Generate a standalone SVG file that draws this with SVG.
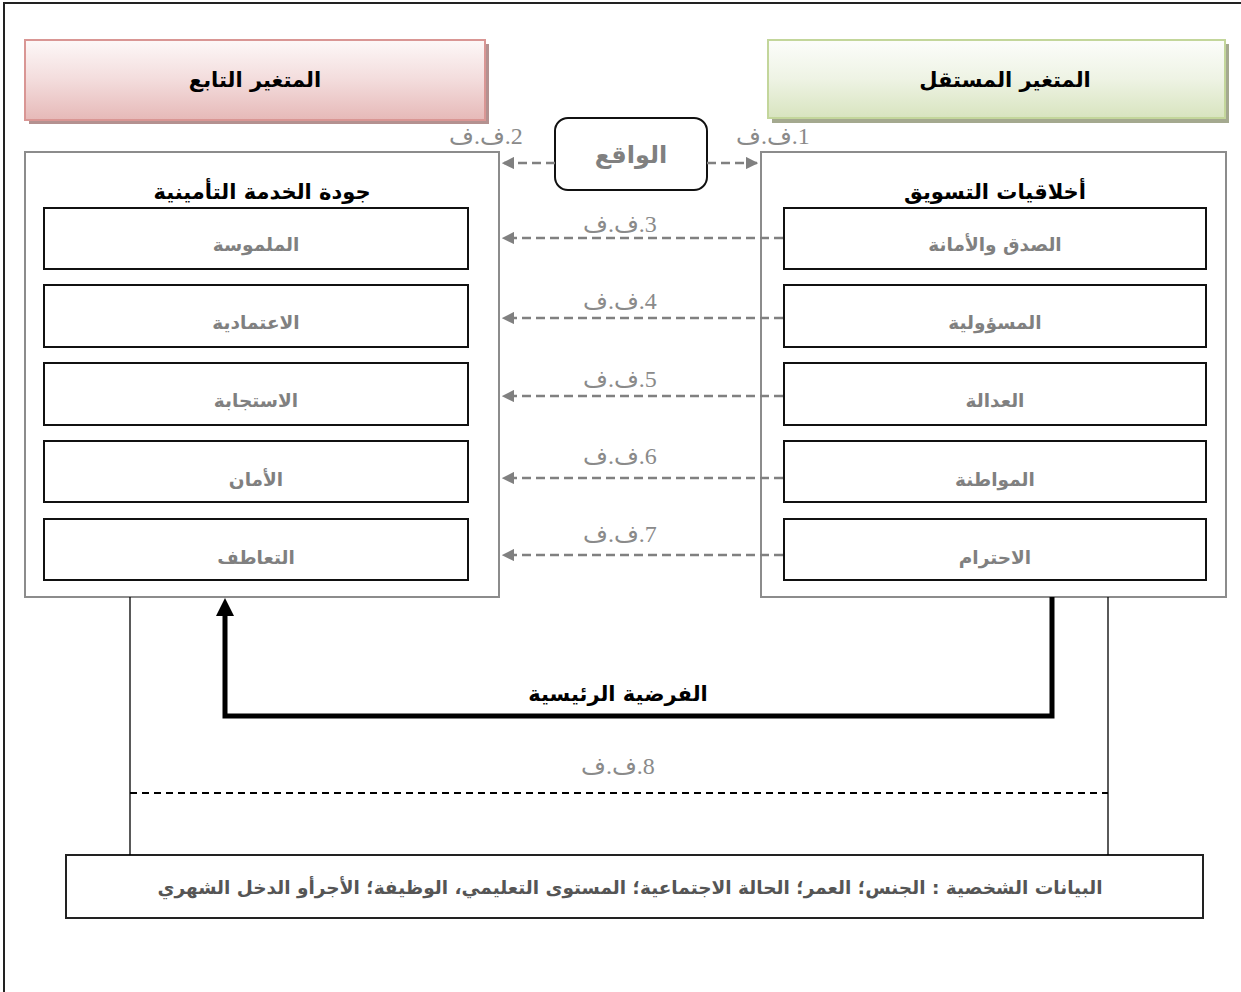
<svg xmlns="http://www.w3.org/2000/svg" width="1241" height="992" viewBox="0 0 1241 992">
  <style>
    .ar { font-family: "DejaVu Sans", "Noto Sans", sans-serif; font-weight: bold; text-anchor: middle; }
    .hdr { font-size: 21px; fill: #000; }
    .item { font-size: 18.5px; fill: #808080; }
    .box { fill: #fff; stroke: #111; stroke-width: 2; }
    .frame { fill: none; stroke: #8c8c8c; stroke-width: 2; }
    .lbl { font-family: "Liberation Serif", "DejaVu Sans", serif; font-size: 24px; fill: #8a8a8a; text-anchor: middle; unicode-bidi: bidi-override; direction: ltr; }
    .dash { stroke: #808080; stroke-width: 2.5; stroke-dasharray: 9 5; fill: none; }
    .thin { stroke: #000; stroke-width: 1.3; fill: none; }
  </style>
  <defs>
    <linearGradient id="pinkFill" x1="0" y1="0" x2="0" y2="1">
      <stop offset="0" stop-color="#fdf8f8"/>
      <stop offset="0.5" stop-color="#f3dcdc"/>
      <stop offset="1" stop-color="#e6b9b8"/>
    </linearGradient>
    <linearGradient id="greenFill" x1="0" y1="0" x2="0" y2="1">
      <stop offset="0" stop-color="#fcfdfb"/>
      <stop offset="0.5" stop-color="#eef3e4"/>
      <stop offset="1" stop-color="#d8e4bf"/>
    </linearGradient>
    <marker id="grayHead" viewBox="0 0 10 10" refX="9" refY="5" markerWidth="5" markerHeight="5" orient="auto-start-reverse" markerUnits="strokeWidth">
      <path d="M0,0 L10,5 L0,10 Z" fill="#808080"/>
    </marker>
  </defs>

  <rect width="1241" height="992" fill="#fff"/>
  <!-- page frame -->
  <rect x="4" y="3" width="1250" height="1000" fill="none" stroke="#222" stroke-width="2"/>

  <!-- dependent variable header -->
  <g id="dependent-header">
    <rect x="29" y="44" width="460" height="80" fill="#b49190"/>
    <rect x="25" y="40" width="460" height="80" fill="url(#pinkFill)" stroke="#d99694" stroke-width="2"/>
    <text class="ar hdr" x="255" y="87" direction="rtl">المتغير التابع</text>
  </g>

  <!-- independent variable header -->
  <g id="independent-header">
    <rect x="772" y="44" width="457" height="79" fill="#a4a98f"/>
    <rect x="768" y="40" width="457" height="78" fill="url(#greenFill)" stroke="#c3d69b" stroke-width="2"/>
    <text class="ar hdr" x="1005" y="87" direction="rtl">المتغير المستقل</text>
  </g>

  <!-- reality node -->
  <g id="reality">
    <rect x="555" y="118" width="152" height="72" rx="13" fill="#fff" stroke="#111" stroke-width="2"/>
    <text class="ar" x="631" y="163" font-size="24" fill="#808080" direction="rtl">الواقع</text>
  </g>

  <!-- service quality block -->
  <g id="service-quality">
    <rect class="frame" x="25" y="152" width="474" height="445"/>
    <text class="ar hdr" x="262" y="199" direction="rtl">جودة الخدمة التأمينية</text>
    <rect class="box" x="44" y="208" width="424" height="61"/>
    <text class="ar item" x="256" y="251" direction="rtl">الملموسة</text>
    <rect class="box" x="44" y="285" width="424" height="62"/>
    <text class="ar item" x="256" y="329" direction="rtl">الاعتمادية</text>
    <rect class="box" x="44" y="363" width="424" height="62"/>
    <text class="ar item" x="256" y="407" direction="rtl">الاستجابة</text>
    <rect class="box" x="44" y="441" width="424" height="61"/>
    <text class="ar item" x="256" y="486" direction="rtl">الأمان</text>
    <rect class="box" x="44" y="519" width="424" height="61"/>
    <text class="ar item" x="256" y="564" direction="rtl">التعاطف</text>
  </g>

  <!-- marketing ethics block -->
  <g id="marketing-ethics">
    <rect class="frame" x="761" y="152" width="465" height="445"/>
    <text class="ar hdr" x="995" y="199" direction="rtl">أخلاقيات التسويق</text>
    <rect class="box" x="784" y="208" width="422" height="61"/>
    <text class="ar item" x="995" y="251" direction="rtl">الصدق والأمانة</text>
    <rect class="box" x="784" y="285" width="422" height="62"/>
    <text class="ar item" x="995" y="329" direction="rtl">المسؤولية</text>
    <rect class="box" x="784" y="363" width="422" height="62"/>
    <text class="ar item" x="995" y="407" direction="rtl">العدالة</text>
    <rect class="box" x="784" y="441" width="422" height="61"/>
    <text class="ar item" x="995" y="486" direction="rtl">المواطنة</text>
    <rect class="box" x="784" y="519" width="422" height="61"/>
    <text class="ar item" x="995" y="564" direction="rtl">الاحترام</text>
  </g>

  <!-- personal data -->
  <g id="personal-data">
    <rect x="66" y="855" width="1137" height="63" fill="#fff" stroke="#222" stroke-width="2"/>
    <text class="ar" x="630" y="894" font-size="18.5" fill="#555" direction="rtl">البيانات الشخصية : الجنس؛ العمر؛ الحالة الاجتماعية؛ المستوى التعليمي، الوظيفة؛ الأجرأو الدخل الشهري</text>
  </g>

  <!-- connectors -->
  <g id="connectors">
    <path class="dash" d="M555,163 H503" marker-end="url(#grayHead)"/>
    <path class="dash" d="M707,163 H757" marker-end="url(#grayHead)"/>
    <path class="dash" d="M783,238 H503" marker-end="url(#grayHead)"/>
    <path class="dash" d="M783,318 H503" marker-end="url(#grayHead)"/>
    <path class="dash" d="M783,396 H503" marker-end="url(#grayHead)"/>
    <path class="dash" d="M783,478 H503" marker-end="url(#grayHead)"/>
    <path class="dash" d="M783,555 H503" marker-end="url(#grayHead)"/>

    <text class="lbl" x="773" y="144">ف.ف.1</text>
    <text class="lbl" x="486" y="144">ف.ف.2</text>
    <text class="lbl" x="620" y="232">ف.ف.3</text>
    <text class="lbl" x="620" y="309">ف.ف.4</text>
    <text class="lbl" x="620" y="387">ف.ف.5</text>
    <text class="lbl" x="620" y="464">ف.ف.6</text>
    <text class="lbl" x="620" y="542">ف.ف.7</text>
    <text class="lbl" x="618" y="774">ف.ف.8</text>

    <!-- main hypothesis -->
    <path d="M1052,597 V716 H225 V612" fill="none" stroke="#000" stroke-width="5"/>
    <path d="M216,616 L225,598 L234,616 Z" fill="#000"/>
    <text class="ar" x="618" y="701" font-size="21" fill="#000" direction="rtl">الفرضية الرئيسية</text>

    <!-- personal data links -->
    <path class="thin" d="M130,597 V855"/>
    <path class="thin" d="M1108,597 V855"/>
    <path d="M130,793 H1108" fill="none" stroke="#000" stroke-width="2" stroke-dasharray="7 5"/>
  </g>
</svg>
